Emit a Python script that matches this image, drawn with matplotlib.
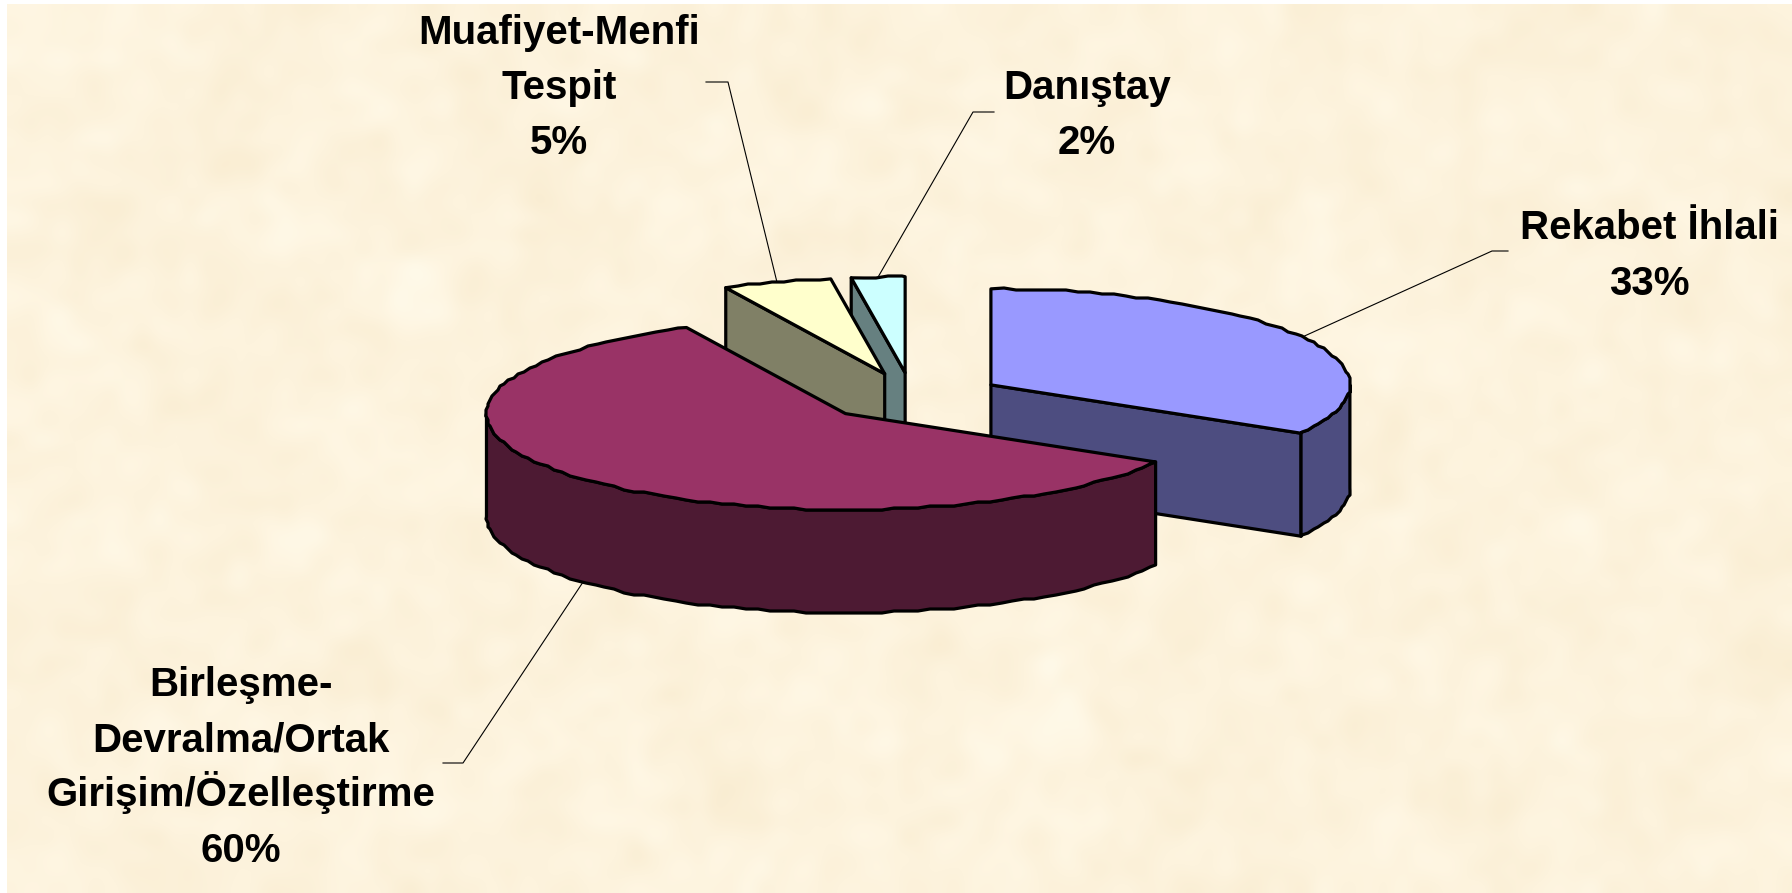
import numpy as np
import matplotlib
matplotlib.use("Agg")
import matplotlib.pyplot as plt
from matplotlib.patches import Polygon

# dane
nazwy = ["Rekabet İhlali", "Birleşme-\nDevralma/Ortak\nGirişim/Özelleştirme", "Muafiyet-Menfi\nTespit", "Danıştay"]
wartosci = [33.4, 59.3, 4.9, 2.4]
procenty = [33, 60, 5, 2]

# kolory
gora = ["#9999ff", "#993366", "#ffffcc", "#ccffff"]
bok = ["#4d4d80", "#4d1a33", "#808066", "#668080"]

# uklad w pikselach
cx, cy = 912, 397
rx, ry = 359, 96
wysuniecie = 91
glebokosc = 103
etykiety_x = [1649, 241, 559, 1087]
ostatnia_linia_y = [295, 862, 154, 154]
odstep = [56, 55.5, 55, 55]
kolanka = [(1492, 251, 1508), (463, 763, 443), (728, 82, 706), (973, 112, 994)]

plt.rcParams["font.family"] = ["Liberation Sans", "DejaVu Sans"]
fig = plt.figure(figsize=(17.92, 8.93), dpi=100, facecolor="white")
ax = fig.add_axes([0, 0, 1, 1])
ax.axis("off")

# tlo - pergamin
rng = np.random.default_rng(7)
szum = rng.normal(0, 1, (56, 112)) + 0.6 * np.kron(rng.normal(0, 1, (14, 28)), np.ones((4, 4)))
tlo = np.zeros((56, 112, 3))
for i, (baza, amp) in enumerate([(253, 1.3), (243, 2.2), (221, 4.0)]):
    tlo[:, :, i] = np.clip(baza + amp * szum, 0, 255) / 255
ax.imshow(tlo, extent=(7, 1792, 893, 4), aspect="auto", interpolation="bicubic", zorder=0)
ax.set_xlim(0, 1792)
ax.set_ylim(893, 0)


def punkt(x0, y0, kat):
    k = np.radians(kat)
    return x0 + rx * np.sin(k), y0 - ry * np.cos(k)


def luk(x0, y0, a, b):
    # lekko poszarpany brzeg jak w oryginale
    katy = np.append(np.arange(a, b, 2.0), b)
    x, y = punkt(x0, y0, katy)
    srodek = (katy > a) & (katy < b)
    x[srodek] = np.round(x[srodek] / 2) * 2
    y[srodek] = np.round(y[srodek] / 2) * 2
    return np.column_stack([x, y])


granice = np.concatenate([[0], np.cumsum(wartosci)]) * 3.6
z = {3: 2, 2: 3, 0: 4, 1: 5}
lw = 2.3

for i in [3, 2, 0, 1]:
    a, b = granice[i], granice[i + 1]
    m = np.radians((a + b) / 2)
    x0 = cx + wysuniecie * np.sin(m)
    y0 = cy - wysuniecie * ry / rx * np.cos(m)
    zz = z[i]

    # sciany ciecia
    for kat, widoczna in [(a, np.sin(np.radians(a)) < 0), (b, np.sin(np.radians(b)) > 0)]:
        if widoczna:
            px, py = punkt(x0, y0, kat)
            ax.add_patch(Polygon([(x0, y0), (px, py), (px, py + glebokosc), (x0, y0 + glebokosc)],
                                 fc=bok[i], ec="black", lw=lw, joinstyle="round", zorder=zz))

    # bok zewnetrzny
    r0, r1 = max(a, 90), min(b, 270)
    if r1 > r0:
        gorny = luk(x0, y0, r0, r1)
        dolny = gorny + [0, glebokosc]
        ax.add_patch(Polygon(np.vstack([gorny, dolny[::-1]]), fc=bok[i], ec="black", lw=lw,
                             joinstyle="round", zorder=zz))

    # gora wycinka
    ax.add_patch(Polygon(np.vstack([[(x0, y0)], luk(x0, y0, a, b)]), fc=gora[i], ec="black", lw=lw,
                         joinstyle="round", zorder=zz))

    # linia do etykiety
    px, py = punkt(x0, y0, (a + b) / 2)
    if np.cos(m) < 0:
        py += glebokosc
    kx, ky, kx2 = kolanka[i]
    ax.plot([px, kx, kx2], [py, ky, ky], color="black", lw=0.8, zorder=6)

    # kazda linia osobno, zeby odstep byl rowny
    linie = nazwy[i].split("\n") + [f"{procenty[i]}%"]
    for j, linia in enumerate(linie):
        y = ostatnia_linia_y[i] - (len(linie) - 1 - j) * odstep[i]
        ax.text(etykiety_x[i], y, linia, ha="center", va="baseline", fontsize=29,
                fontweight="bold", color="black", zorder=7)

fig.savefig("out.png", dpi=100, facecolor="white")
